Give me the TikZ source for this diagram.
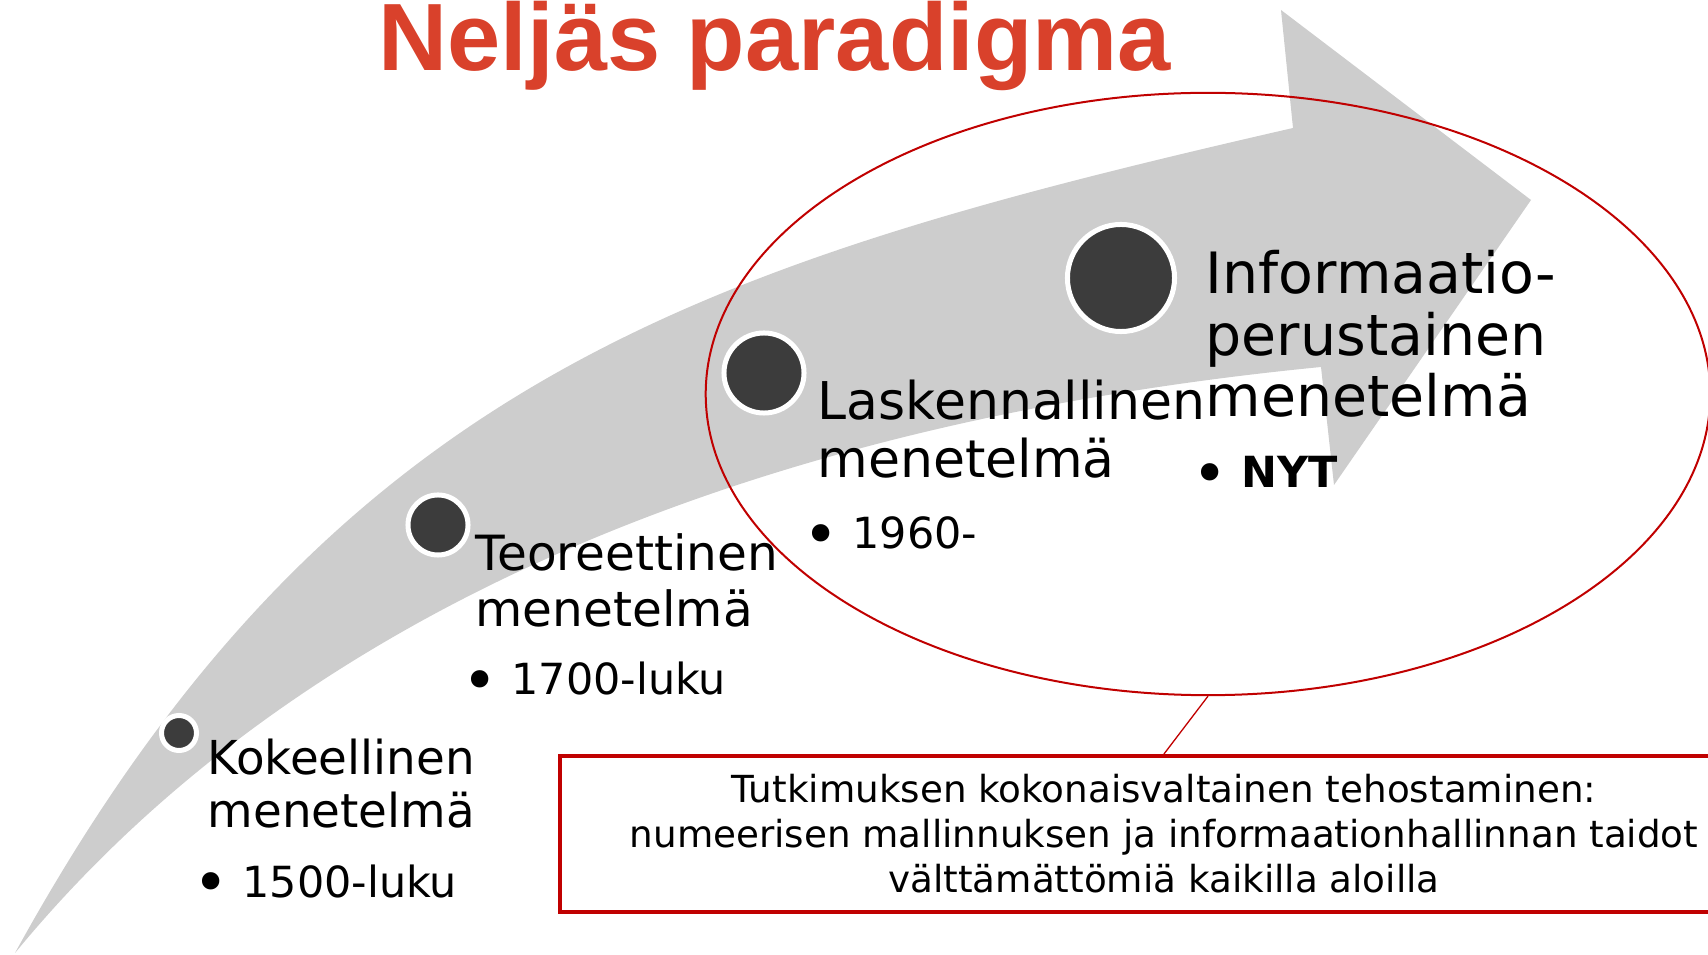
\documentclass[tikz,border=0pt]{standalone}
\usepackage{fontspec}
\setmainfont{DejaVu Sans}
\newfontfamily\titlefont{Liberation Sans}
\usetikzlibrary{shapes.geometric}
\definecolor{arrowgray}{HTML}{CDCDCD}
\definecolor{dotgray}{HTML}{3C3C3C}
\definecolor{erared}{HTML}{C00000}
\definecolor{titlered}{HTML}{D9412B}
\newcommand{\blt}{{\fontsize{17}{14}\selectfont\raisebox{-1.9pt}{•}}}

\begin{document}
\begin{tikzpicture}[x=0.01cm, y=-0.01cm,
  dot/.style={circle, fill=dotgray, draw=white, line width=0.05cm, inner sep=0pt},
  head/.style={anchor=base west, align=left, inner sep=0pt},
  year/.style={anchor=base west, inner sep=0pt, font=\fontsize{12.2}{14}\selectfont}
]
\useasboundingbox (0,0) rectangle (1708,955);

% --- nuoli ------------------------------------------------------------------
\fill[arrowgray] (15,953) .. controls (330,380) and (700,264) .. (1293,128)
  -- (1281,10) -- (1531,200) -- (1334,485) -- (1321,367)
  .. controls (789,419) and (312,592) .. cycle;

\node[anchor=base west, inner sep=0pt, text=titlered, font=\titlefont\bfseries\fontsize{27.2}{30}\selectfont] (title) at (378,71) {Neljäs paradigma};

\node[ellipse, draw=erared, line width=0.02cm, minimum width=10.04cm, minimum height=6.02cm, inner sep=0pt] (era) at (1208,394) {};

% --- vaiheet (base = viimeinen rivi) ----------------------------------------
\node[dot, minimum size=0.35cm] (d1) at (179,733) {};
\node[dot, minimum size=0.60cm] (d2) at (438,525) {};
\node[dot, minimum size=0.80cm] (d3) at (764,373) {};
\node[dot, minimum size=1.07cm] (d4) at (1121,278) {};

\node[head, font=\fontsize{13.3}{15.1}\selectfont] (kok) at (207,828) {Kokeellinen\\menetelmä};
\node[year] (kokv) at (193,897) {\blt{} 1500-luku};

\node[head, font=\fontsize{13.8}{16.2}\selectfont] (teo) at (475,627) {Teoreettinen\\menetelmä};
\node[year] (teov) at (462,695) {\blt{} 1700-luku};

\node[head, font=\fontsize{14.8}{16.5}\selectfont] (las) at (817,478) {Laskennallinen\\menetelmä};
\node[year] (lasv) at (803,549) {\blt{} 1960-};

\node[head, font=\fontsize{16.2}{17.6}\selectfont] (inf) at (1205,417) {Informaatio-\\perustainen\\menetelmä};
\node[year] (infv) at (1192,488) {\blt{} \textbf{NYT}};

% --- tavoite ----------------------------------------------------------------
\node[draw=erared, line width=0.04cm, minimum width=12.08cm, minimum height=1.56cm, align=center, font=\fontsize{10.6}{12.8}\selectfont] (box) at (1164,834)
  {Tutkimuksen kokonaisvaltainen tehostaminen:\\numeerisen mallinnuksen ja informaationhallinnan taidot\\välttämättömiä kaikilla aloilla};

\draw[erared, line width=0.013cm] (era.south) -- (box.north);

\end{tikzpicture}
\end{document}
